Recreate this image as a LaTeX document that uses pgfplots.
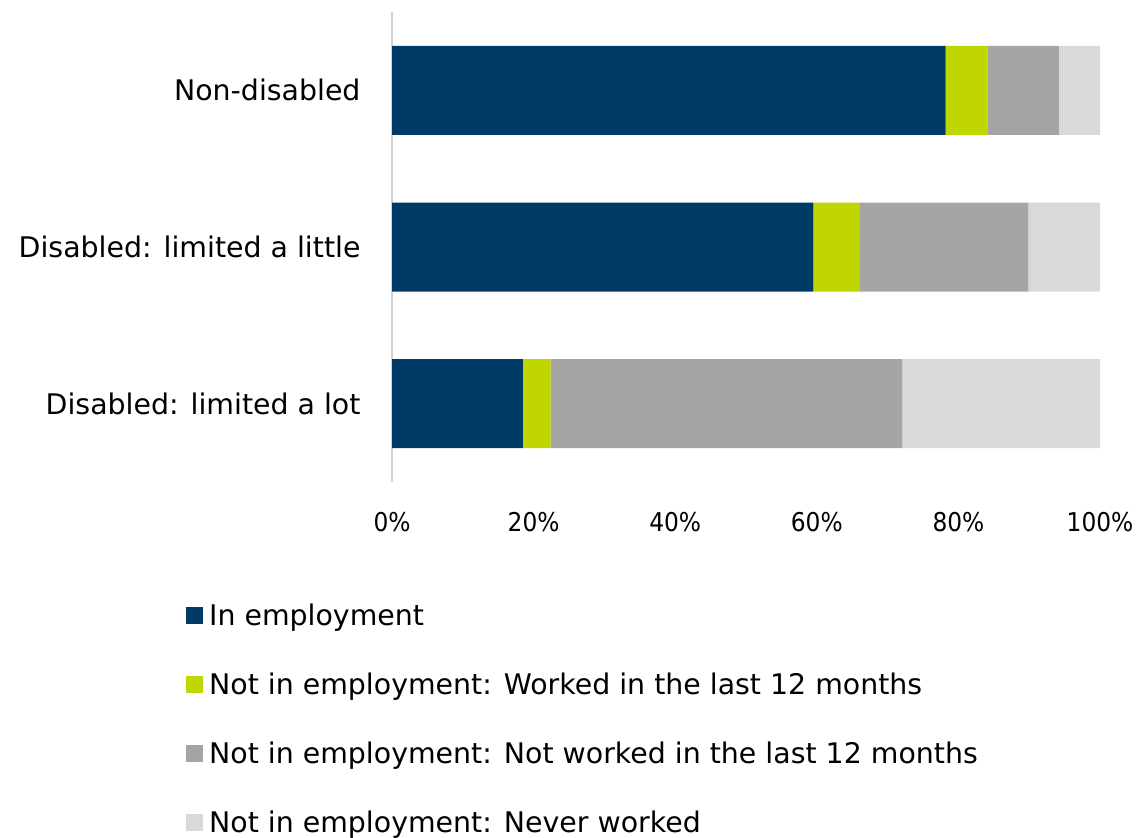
\documentclass[border=0pt]{standalone}
\usepackage{pgfplots}
\pgfplotsset{compat=1.18}
\usepackage{fontspec}
\setmainfont{DejaVu Sans}
\newfontfamily\condfont{DejaVu Sans Condensed}
\definecolor{cblue}{RGB}{0,59,102}
\definecolor{cgreen}{RGB}{192,214,0}
\definecolor{cgrey}{RGB}{165,165,165}
\definecolor{clight}{RGB}{217,217,217}
\begin{document}
\begin{tikzpicture}
\path[use as bounding box] (0,0) rectangle (1141bp,838bp);
\begin{axis}[
  at={(392bp,356bp)}, anchor=south west,
  scale only axis, width=708bp, height=470bp,
  xbar stacked, bar width=89bp,
  xmin=0, xmax=100, ymin=-0.5, ymax=2.5,
  y dir=reverse,
  ytick={0,1,2},
  yticklabels={Non-disabled, {Disabled: limited a little}, {Disabled: limited a lot}},
  xtick={0,20,40,60,80,100},
  xticklabels={0\%,20\%,40\%,60\%,80\%,100\%},
  major tick length=0pt,
  separate axis lines,
  axis x line*=bottom, axis y line*=left,
  x axis line style={draw=none},
  y axis line style={draw={rgb,255:red,210;green,210;blue,210}, line width=1.5bp, -},
  every tick label/.append style={text=black},
  yticklabel style={font=\fontsize{28.5}{34}\selectfont, xshift=-28bp},
  xticklabel style={font=\condfont\fontsize{26}{31}\selectfont, yshift=-27bp},
  /pgf/number format/assume math mode=true,
  legend style={draw=none, fill=none, at={(-0.291,-0.255)}, anchor=north west,
    font=\fontsize{28.5}{34}\selectfont, row sep=42bp, legend cell align=left,
    inner sep=0pt, nodes={inner xsep=6bp}},
  legend image code/.code={\fill[#1] (0bp,-8.5bp) rectangle (17bp,8.5bp);},
]
\addplot[fill=cblue, draw=none] coordinates {(78.2,0) (59.5,1) (18.5,2)};
\addplot[fill=cgreen, draw=none] coordinates {(5.9,0) (6.6,1) (3.9,2)};
\addplot[fill=cgrey, draw=none] coordinates {(10.1,0) (23.8,1) (49.7,2)};
\addplot[fill=clight, draw=none] coordinates {(5.8,0) (10.1,1) (27.9,2)};
\legend{In employment, Not in employment: Worked in the last 12 months, Not in employment: Not worked in the last 12 months, Not in employment: Never worked}
\end{axis}
\end{tikzpicture}
\end{document}
